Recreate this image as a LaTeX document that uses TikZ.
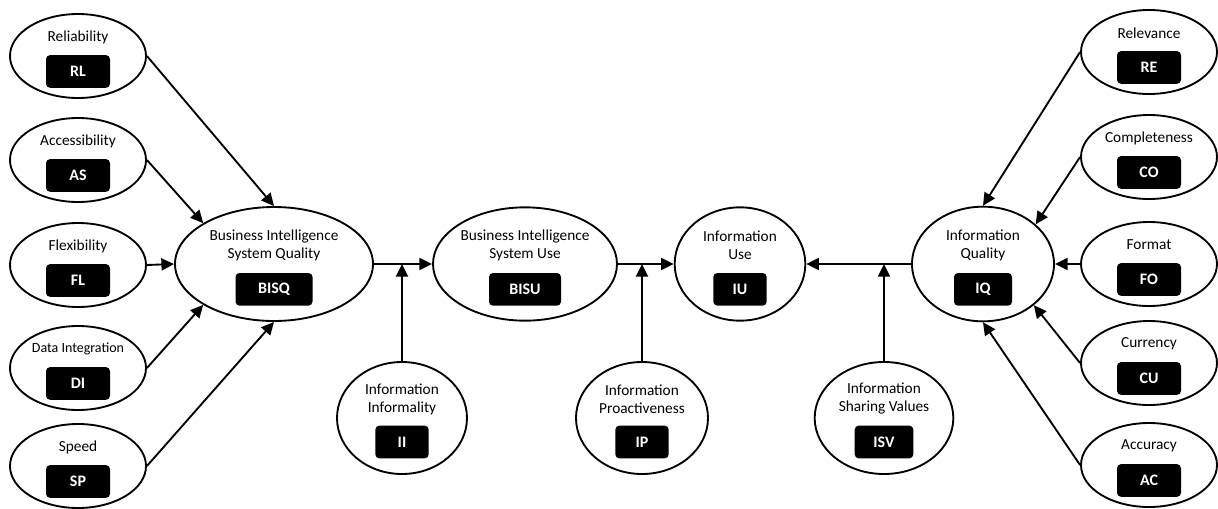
\documentclass[tikz,border=0pt]{standalone}
\usepackage{fontspec}
\setmainfont{Carlito}
\usetikzlibrary{shapes.geometric,arrows.meta}
\newcommand{\mkcons}[9]{%
  \node[cons,minimum width=#3,minimum height=#4] (#1) at #2 {};
  \node[lbl] (#1-l) at ([yshift=#6]#1.center) {#5};
  \node[tagbox,minimum width=#8] (#1-t) at ([yshift=#9]#1.center) {#7};
}
\begin{document}
\begin{tikzpicture}[x=0.75pt,y=-0.75pt,
  cons/.style={ellipse,draw,line width=1.4pt,inner sep=0pt,fill=white},
  lbl/.style={font=\fontsize{11.5}{13.5}\selectfont,align=center,inner sep=0pt},
  tagbox/.style={fill=black,text=white,rounded corners=3pt,font=\fontsize{12}{13}\selectfont\bfseries,inner sep=0pt,minimum height=24.5pt},
  arr/.style={line width=1.4pt,-{Triangle[length=9.5pt,width=9pt]}}]
\useasboundingbox (0,0) rectangle (1218,508);
% left indicators
\mkcons{RL}{(78,56)}{102pt}{63pt}{Reliability}{14.25pt}{RL}{48pt}{-11.6pt}
\mkcons{AS}{(78,160)}{102pt}{63pt}{Accessibility}{14.25pt}{AS}{48pt}{-11.6pt}
\mkcons{FL}{(78,265)}{102pt}{63pt}{Flexibility}{14.25pt}{FL}{48pt}{-11.6pt}
\mkcons{DI}{(78,368)}{102pt}{63pt}{\fontsize{10.5}{12}\selectfont Data Integration}{14.25pt}{DI}{48pt}{-11.6pt}
\mkcons{SP}{(78,466)}{102pt}{63pt}{Speed}{14.25pt}{SP}{48pt}{-11.6pt}
% right indicators
\mkcons{RE}{(1149,52)}{102pt}{63pt}{Relevance}{14.25pt}{RE}{48pt}{-11.6pt}
\mkcons{CO}{(1149,157)}{102pt}{63pt}{Completeness}{14.25pt}{CO}{48pt}{-11.6pt}
\mkcons{FO}{(1149,264)}{102pt}{63pt}{Format}{14.25pt}{FO}{48pt}{-11.6pt}
\mkcons{CU}{(1149,363)}{102pt}{63pt}{Currency}{14.25pt}{CU}{48pt}{-11.6pt}
\mkcons{AC}{(1149,465)}{102pt}{63pt}{Accuracy}{14.25pt}{AC}{48pt}{-11.6pt}
% main constructs
\mkcons{BISQ}{(274,264)}{148.5pt}{85.5pt}{Business Intelligence\\System Quality}{14.25pt}{BISQ}{57.75pt}{-19pt}
\mkcons{BISU}{(525,264)}{138pt}{85pt}{Business Intelligence\\System Use}{14.25pt}{BISU}{54pt}{-19pt}
\mkcons{IU}{(740,264)}{98pt}{85pt}{Information\\Use}{14.25pt}{IU}{40pt}{-19pt}
\mkcons{IQ}{(983,264)}{106.5pt}{86pt}{Information\\Quality}{14.25pt}{IQ}{43.5pt}{-19pt}
% moderators
\mkcons{II}{(402,418)}{97.5pt}{84pt}{Information\\Informality}{14.25pt}{II}{40pt}{-18pt}
\mkcons{IP}{(642,418)}{99pt}{84pt}{Information\\Proactiveness}{14.25pt}{IP}{40pt}{-18pt}
\mkcons{ISV}{(884,418)}{104pt}{84pt}{Information\\Sharing Values}{14.25pt}{ISV}{44pt}{-18pt}
% junctions
\coordinate (j1) at (II.north |- BISQ.east);
\coordinate (j2) at (IP.north |- BISU.east);
\coordinate (j3) at (ISV.north |- IQ.west);
% connectors
\draw[arr] (RL.east) -- (BISQ.north);
\draw[arr] (AS.east) -- (BISQ.150);
\draw[arr] (FL.east) -- (BISQ.west);
\draw[arr] (DI.east) -- (BISQ.210);
\draw[arr] (SP.east) -- (BISQ.south);
\draw[arr] (RE.west) -- (IQ.north);
\draw[arr] (CO.west) -- (IQ.37);
\draw[arr] (FO.west) -- (IQ.east);
\draw[arr] (CU.west) -- (IQ.-39);
\draw[arr] (AC.west) -- (IQ.south);
\draw[arr] (BISQ.east) -- (BISU.west);
\draw[arr] (BISU.east) -- (IU.west);
\draw[arr] (IQ.west) -- (IU.east);
\draw[arr] (II.north) -- (j1);
\draw[arr] (IP.north) -- (j2);
\draw[arr] (ISV.north) -- (j3);
\end{tikzpicture}
\end{document}
